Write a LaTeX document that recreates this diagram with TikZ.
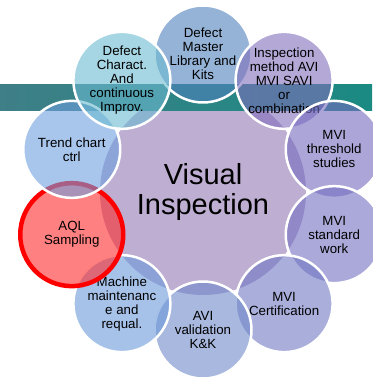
\documentclass[tikz,border=0pt]{standalone}
\usepackage{fontspec}
\setmainfont{Liberation Sans}
\definecolor{hubfill}{HTML}{BDAED2}
\definecolor{bandleft}{HTML}{3F7F87}
\definecolor{bandmid}{HTML}{4A77A0}
\definecolor{bandright}{HTML}{1A8A82}
\definecolor{dmfill}{HTML}{4E80BC}
\definecolor{imfill}{HTML}{806EBB}
\definecolor{thfill}{HTML}{756BBE}
\definecolor{swfill}{HTML}{7370C1}
\definecolor{cefill}{HTML}{7078C3}
\definecolor{avfill}{HTML}{7089CA}
\definecolor{mmfill}{HTML}{6C99D9}
\definecolor{aqfill}{HTML}{FF2B2B}
\definecolor{trfill}{HTML}{6E9EDE}
\definecolor{dcfill}{HTML}{6BB9D0}

\begin{document}
\begin{tikzpicture}[x=1pt,y=1pt]
   \tikzset{HubStyle/.style={circle,fill=hubfill,inner sep=0pt,minimum size=206pt,align=center,font=\fontsize{29}{30}\selectfont}}
   \tikzset{SatStyle/.style={circle,draw=white,line width=2.5pt,fill opacity=0.6,text opacity=1,inner sep=-3pt,minimum size=97pt,align=center,font=\fontsize{13.3}{14}\selectfont}}
   \useasboundingbox (-203,-185) rectangle (169,192);
   \node[HubStyle] (vi) at (0,0) {Visual\\Inspection};
   \shade[left color=bandleft,middle color=bandmid,right color=bandright] (-203,81) rectangle (169,107);
   \node[SatStyle,fill=dmfill] (dml) at (90:138) {Defect\\Master\\Library and\\Kits};
   \node[SatStyle,fill=imfill] (ime) at (54:138) {Inspection\\method AVI\\MVI SAVI\\or\\combination};
   \node[SatStyle,fill=thfill] (mth) at (18:138) {MVI\\threshold\\studies};
   \node[SatStyle,fill=swfill] (msw) at (-18:138) {MVI\\standard\\work};
   \node[SatStyle,fill=cefill] (mce) at (-54:138) {MVI\\Certification};
   \node[SatStyle,fill=avfill] (avk) at (-90:138) {AVI\\validation\\K\&K};
   \node[SatStyle,fill=mmfill] (mmr) at (-126:138) {Machine\\maintenanc\\e and\\requal.};
   \node[SatStyle,fill=aqfill,draw=red,line width=4.5pt,minimum size=103pt] (aql) at (-162:138) {AQL\\Sampling};
   \node[SatStyle,fill=trfill] (tcc) at (162:138) {Trend chart\\ctrl};
   \node[SatStyle,fill=dcfill] (dci) at (126:138) {Defect\\Charact.\\And\\continuous\\Improv.};
\end{tikzpicture}
\end{document}
